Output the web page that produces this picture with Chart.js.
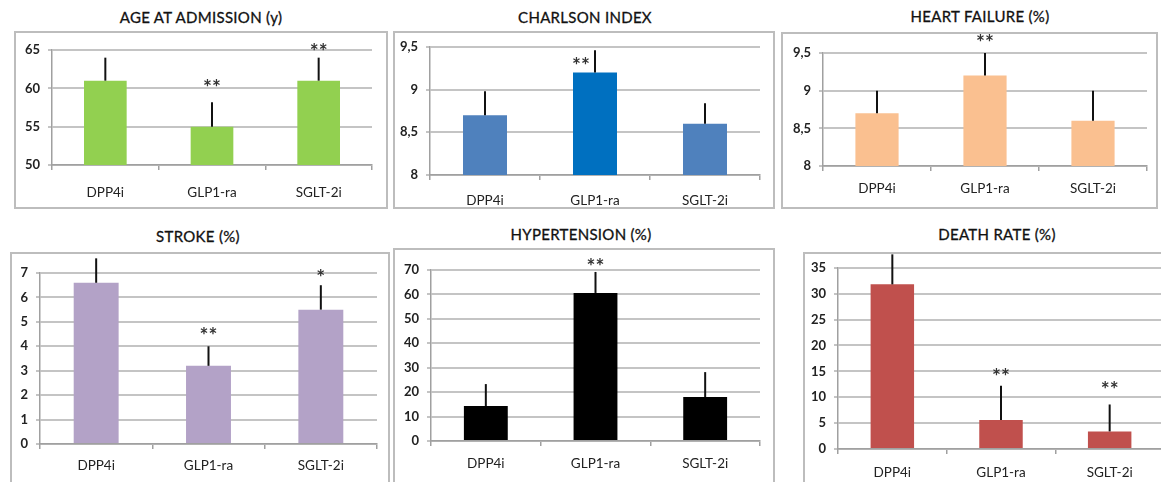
<!DOCTYPE html>
<html>
<head>
<meta charset="utf-8">
<title>Outcomes by drug class</title>
<script src="https://cdn.jsdelivr.net/npm/chart.js@4.4.1/dist/chart.umd.min.js"></script>
<style>
  html, body { margin: 0; padding: 0; background: #fff; }
  body { width: 1161px; height: 482px; position: relative; overflow: hidden; font-family: Lato, "Open Sans", sans-serif; }
  .box { position: absolute; border: 2px solid #bdbdbd; box-sizing: border-box; background: #fff; }
  .box canvas { position: absolute; left: -2px; top: -2px; }
  .title { position: absolute; font-size: 15px; color: #111; white-space: nowrap; transform: translateX(-50%); letter-spacing: 0.3px; -webkit-text-stroke: 0.3px #111; }
</style>
</head>
<body>
<script>
// categories shared by every panel
const categories = ['DPP4i', 'GLP1-ra', 'SGLT-2i'];

// AGE AT ADMISSION (y)
const ageValues = [61, 55, 61];
const ageErrTop = [64, 58.2, 64];
const ageSig = ['', '**', '**'];
const ageSigAt = [null, 60.7, 65.3];

// CHARLSON INDEX
const charlsonValues = [8.7, 9.2, 8.6];
const charlsonErrTop = [8.98, 9.46, 8.84];
const charlsonSig = ['', '**', ''];
const charlsonSigAt = [null, 9.33, null];

// HEART FAILURE (%)
const hfValues = [8.7, 9.2, 8.6];
const hfErrTop = [9.0, 9.5, 9.0];
const hfSig = ['', '**', ''];
const hfSigAt = [null, 9.7, null];

// STROKE (%)
const strokeValues = [6.6, 3.2, 5.5];
const strokeErrTop = [7.6, 4.0, 6.5];
const strokeSig = ['', '**', '*'];
const strokeSigAt = [null, 4.6, 7.0];

// HYPERTENSION (%)
const htValues = [14.3, 60.6, 18];
const htErrTop = [23.3, 69.2, 28.2];
const htSig = ['', '**', ''];
const htSigAt = [null, 73.3, null];

// DEATH RATE (%)
const deathValues = [31.8, 5.6, 3.4];
const deathErrTop = [37.6, 12.2, 8.6];
const deathSig = ['', '**', '**'];
const deathSigAt = [null, 14.8, 12.4];

const panels = [
  { title: 'AGE AT ADMISSION (y)', values: ageValues, err: ageErrTop, sig: ageSig, sigAt: ageSigAt,
    colors: ['#92d050', '#92d050', '#92d050'], min: 50, max: 65, step: 5,
    box: [14, 31, 374, 178], area: [52, 50, 372, 165], titleXY: [201, 18], labelGap: 27, sigDx: [0, 0, 0] },
  { title: 'CHARLSON INDEX', values: charlsonValues, err: charlsonErrTop, sig: charlsonSig, sigAt: charlsonSigAt,
    colors: ['#4f81bd', '#0070c0', '#4f81bd'], min: 8, max: 9.5, step: 0.5,
    box: [393, 31, 382, 178], area: [430, 43, 760, 175], titleXY: [585, 18], labelGap: 25, sigDx: [0, -14, 0] },
  { title: 'HEART FAILURE (%)', values: hfValues, err: hfErrTop, sig: hfSig, sigAt: hfSigAt,
    colors: ['#fac090', '#fac090', '#fac090'], min: 8, max: 9.5, step: 0.5,
    box: [781, 32, 377, 177], area: [823, 53, 1147, 166], titleXY: [980, 17], labelGap: 22, sigDx: [0, 0, 0] },
  { title: 'STROKE (%)', values: strokeValues, err: strokeErrTop, sig: strokeSig, sigAt: strokeSigAt,
    colors: ['#b3a2c7', '#b3a2c7', '#b3a2c7'], min: 0, max: 7, step: 1,
    box: [10, 252, 380, 240], area: [40, 273, 377, 444], titleXY: [198, 237], labelGap: 21, sigDx: [0, 0, 0] },
  { title: 'HYPERTENSION (%)', values: htValues, err: htErrTop, sig: htSig, sigAt: htSigAt,
    colors: ['#000000', '#000000', '#000000'], min: 0, max: 70, step: 10,
    box: [393, 248, 382, 244], area: [431, 270, 760, 441], titleXY: [581, 235], labelGap: 22, sigDx: [0, 0, 0] },
  { title: 'DEATH RATE (%)', values: deathValues, err: deathErrTop, sig: deathSig, sigAt: deathSigAt,
    colors: ['#c0504d', '#c0504d', '#c0504d'], min: 0, max: 35, step: 5,
    box: [803, 252, 372, 240], area: [838, 262, 1164, 449], titleXY: [997, 235], labelGap: 23, sigDx: [0, 0, 0] }
];

// whisker up to the error value, plus significance stars
const errorBars = {
  id: 'errorBars',
  afterDatasetsDraw(chart, args, opts) {
    const ctx = chart.ctx;
    const y = chart.scales.y;
    const meta = chart.getDatasetMeta(0);
    ctx.save();
    ctx.strokeStyle = '#111';
    ctx.lineWidth = 2;
    meta.data.forEach((bar, i) => {
      ctx.beginPath();
      ctx.moveTo(bar.x, y.getPixelForValue(opts.values[i]));
      ctx.lineTo(bar.x, y.getPixelForValue(opts.err[i]));
      ctx.stroke();
      if (opts.sig[i]) {
        ctx.fillStyle = '#333';
        ctx.font = 'bold 21px Lato, sans-serif';
        ctx.textAlign = 'center';
        ctx.textBaseline = 'middle';
        ctx.fillText(opts.sig[i], bar.x + opts.dx[i], y.getPixelForValue(opts.sigAt[i]) + 5);
      }
    });
    ctx.restore();
  }
};

panels.forEach(p => {
  const [bx, by, bw, bh] = p.box;
  const [al, at, ar, ab] = p.area;

  const t = document.createElement('div');
  t.className = 'title';
  t.textContent = p.title;
  t.style.left = p.titleXY[0] + 'px';
  t.style.top = (p.titleXY[1] - 10) + 'px';
  document.body.appendChild(t);

  const box = document.createElement('div');
  box.className = 'box';
  box.style.left = bx + 'px';
  box.style.top = by + 'px';
  box.style.width = bw + 'px';
  box.style.height = bh + 'px';
  const cv = document.createElement('canvas');
  cv.width = bw;
  cv.height = bh;
  box.appendChild(cv);
  document.body.appendChild(box);

  const yWidth = al - bx - 2;
  const xHeight = by + bh - ab;

  new Chart(cv, {
    type: 'bar',
    data: {
      labels: categories,
      datasets: [{
        data: p.values,
        backgroundColor: p.colors,
        borderWidth: 0,
        barPercentage: 0.4,
        categoryPercentage: 1
      }]
    },
    options: {
      responsive: false,
      animation: false,
      events: [],
      layout: { padding: { left: 2, top: at - by, right: bx + bw - ar, bottom: 0 } },
      plugins: {
        legend: { display: false },
        tooltip: { enabled: false },
        errorBars: { values: p.values, err: p.err, sig: p.sig, sigAt: p.sigAt, dx: p.sigDx }
      },
      scales: {
        x: {
          grid: { offset: true, drawOnChartArea: false, drawTicks: true, tickLength: 5, color: '#a0a0a0', lineWidth: 1.5 },
          border: { color: '#a0a0a0', width: 1.5 },
          ticks: { color: '#222', font: { family: 'Lato', size: 13.5 }, padding: p.labelGap - 12, maxRotation: 0 },
          afterFit(s) { s.height = xHeight; }
        },
        y: {
          min: p.min, max: p.max,
          grid: { color: '#c4c4c4', lineWidth: 2, tickLength: 4 },
          border: { color: '#a0a0a0', width: 1.5 },
          ticks: {
            stepSize: p.step, color: '#222', padding: 8,
            font: { family: 'Lato', size: 13, weight: 'bold' },
            callback: v => String(v).replace('.', ',')
          },
          afterFit(s) { s.width = yWidth; }
        }
      }
    },
    plugins: [errorBars]
  });
});
</script>
</body>
</html>
